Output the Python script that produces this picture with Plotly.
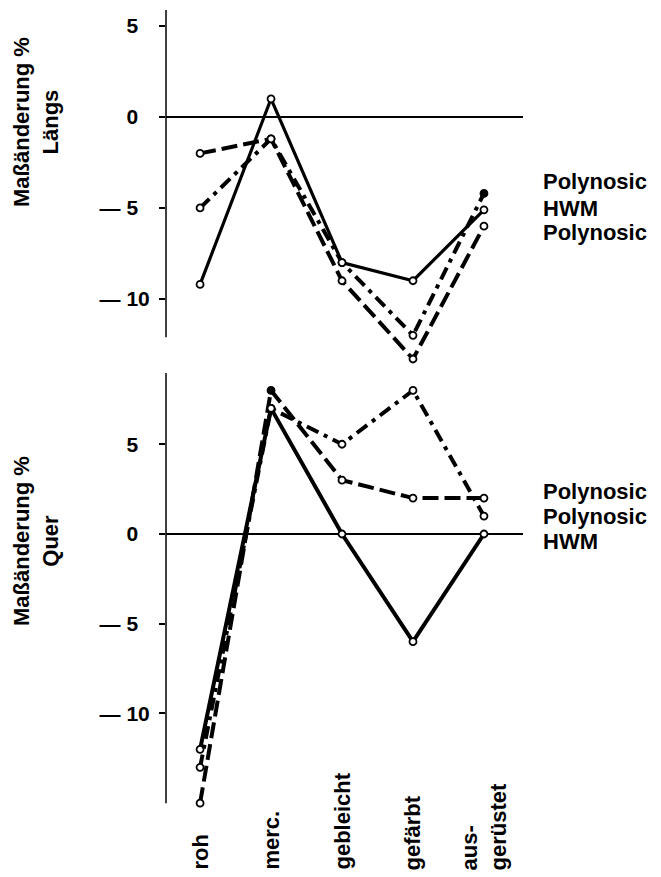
import plotly.graph_objects as go

# process stages (x categories)
stages = ["roh", "merc.", "gebleicht", "gefärbt", "aus-<br>gerüstet"]

# Maßänderung längs (%)
laengs_hwm = [-9.2, 1.0, -8.0, -9.0, -5.1]
laengs_poly_a = [-2.0, -1.2, -9.0, -13.3, -6.0]
laengs_poly_b = [-5.0, -1.2, -8.0, -12.0, -4.2]

# Maßänderung quer (%)
quer_hwm = [-12.0, 7.0, 0.0, -6.0, 0.0]
quer_poly_a = [-15.0, 8.0, 3.0, 2.0, 2.0]
quer_poly_b = [-13.0, 7.0, 5.0, 8.0, 1.0]

tick_vals = [-10, -5, 0, 5]
tick_text = ["— 10", "— 5", "0", "5"]

laengs_labels = ["Polynosic", "HWM", "Polynosic"]
quer_labels = ["Polynosic", "Polynosic", "HWM"]

# the page body has an 8px margin, so the figure is a bit smaller
OFF = 8
W, H = 661 - OFF, 877 - OFF
FONT = "Liberation Sans, Arial, sans-serif"


def px_x(x):
    return (x - OFF) / W


def px_y(y):
    return 1 - (y - OFF) / H


fig = go.Figure()


def add_series(values, dash, width, xa, ya, filled=None):
    fills = ["white"] * len(values)
    if filled is not None:
        fills[filled] = "black"
    fig.add_trace(go.Scatter(
        x=stages, y=values, xaxis=xa, yaxis=ya,
        mode="lines+markers",
        line=dict(color="black", width=width, dash=dash),
        marker=dict(symbol="circle", size=7, color=fills,
                    line=dict(color="black", width=1.8)),
        cliponaxis=False, showlegend=False,
    ))


LONG_DASH = "16px,6px"
DASH_DOT = "13px,6px,4px,6px"

add_series(laengs_hwm, "solid", 3.2, "x", "y")
add_series(laengs_poly_a, LONG_DASH, 4, "x", "y")
add_series(laengs_poly_b, DASH_DOT, 4, "x", "y", filled=4)

add_series(quer_hwm, "solid", 4, "x2", "y2")
add_series(quer_poly_a, LONG_DASH, 4, "x2", "y2", filled=1)
add_series(quer_poly_b, DASH_DOT, 4, "x2", "y2")

# in the original the digits are left-aligned, so pad one-digit labels
padded_ticks = [t + "\u00a0\u00a0" * (2 - len(t.split()[-1])) for t in tick_text]

x_dom = [px_x(166), px_x(523)]
x_common = dict(domain=x_dom, range=[-0.48, 4.55], type="category",
                visible=False)
y_common = dict(
    tickvals=tick_vals, ticktext=padded_ticks,
    showline=False,
    ticks="outside", ticklen=6, tickwidth=1.5, tickcolor="black",
    zeroline=True, zerolinecolor="black", zerolinewidth=1.5,
    showgrid=False, ticklabelstandoff=5,
    tickfont=dict(family=FONT, size=21, color="black", weight="bold"),
)

# visible axis extents (the plot area reaches a bit further so lines
# that leave the axis are not cut)
top_axis = [-12.1, 5.88]
bot_axis = [-15.0, 8.97]

fig.update_layout(
    width=W, height=H,
    margin=dict(l=0, r=0, t=0, b=0),
    paper_bgcolor="white", plot_bgcolor="white",
    xaxis=dict(anchor="y", **x_common),
    xaxis2=dict(anchor="y2", **x_common),
    yaxis=dict(domain=[px_y(365), px_y(10)], range=[-13.63, 5.88],
               anchor="x", **y_common),
    yaxis2=dict(domain=[px_y(812), px_y(373)], range=[-15.49, 8.97],
                anchor="x2", **y_common),
)

for yref, (y0, y1) in (("y", top_axis), ("y2", bot_axis)):
    xref = "x domain" if yref == "y" else "x2 domain"
    fig.add_shape(type="line", xref=xref, yref=yref, x0=0, x1=0,
                  y0=y0, y1=y1, line=dict(color="black", width=1.5))

ann_font = dict(family=FONT, size=22, color="black")

# y-axis titles
fig.add_annotation(text="<b>Maßänderung %<br>Längs</b>", textangle=-90,
                   x=px_x(36), y=px_y(122), xref="paper", yref="paper",
                   xanchor="center", yanchor="middle",
                   showarrow=False, font=ann_font)
fig.add_annotation(text="<b>Maßänderung %<br>Quer</b>", textangle=-90,
                   x=px_x(36), y=px_y(541), xref="paper", yref="paper",
                   xanchor="center", yanchor="middle",
                   showarrow=False, font=ann_font)

# stage labels under the lower panel
for s in stages:
    fig.add_annotation(text=f"<b>{s}</b>", textangle=-90, align="left",
                       x=s, xref="x2", y=px_y(872), yref="paper",
                       xanchor="center", yanchor="bottom",
                       showarrow=False, font=ann_font)

# series labels on the right
for lbl, yy in zip(laengs_labels, [182, 208, 233]):
    fig.add_annotation(text=f"<b>{lbl}</b>", x=px_x(541), y=px_y(yy),
                       xref="paper", yref="paper", xanchor="left",
                       yanchor="middle", showarrow=False, font=ann_font)
for lbl, yy in zip(quer_labels, [491, 516, 541]):
    fig.add_annotation(text=f"<b>{lbl}</b>", x=px_x(541), y=px_y(yy),
                       xref="paper", yref="paper", xanchor="left",
                       yanchor="middle", showarrow=False, font=ann_font)

fig.write_html("out.html")
